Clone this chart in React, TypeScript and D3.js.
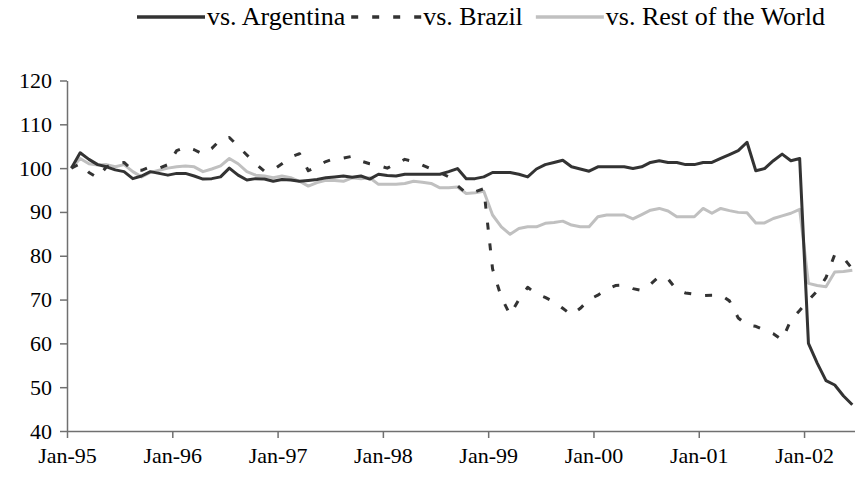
import { useEffect, useRef } from 'react';
import * as d3 from 'd3';

// monthly index, Jan-95 .. Jun-02 (90 months)
const yearLabels = ['Jan-95', 'Jan-96', 'Jan-97', 'Jan-98', 'Jan-99', 'Jan-00', 'Jan-01', 'Jan-02'];
const yTicks = [40, 50, 60, 70, 80, 90, 100, 110, 120];

const argentina = [
  100, 103.5, 102, 100.8, 100.3, 99.6, 99.2, 97.6, 98.2, 99.2, 98.8, 98.4,
  98.8, 98.8, 98.2, 97.5, 97.6, 98, 100, 98.4, 97.3, 97.6, 97.5, 97,
  97.4, 97.3, 97, 97.2, 97.4, 97.8, 98, 98.2, 97.9, 98.2, 97.5, 98.6,
  98.3, 98.2, 98.6, 98.6, 98.6, 98.6, 98.6, 99.2, 99.9, 97.6, 97.6, 98,
  99, 99, 99, 98.6, 98, 99.8, 100.8, 101.3, 101.8, 100.3, 99.8, 99.3,
  100.3, 100.3, 100.3, 100.3, 99.9, 100.3, 101.3, 101.7, 101.3, 101.3, 100.8, 100.8,
  101.3, 101.3, 102.2, 103.1, 104, 105.9, 99.4, 99.9, 101.7, 103.2, 101.7, 102.2,
  60, 55.5, 51.5, 50.5, 48, 46,
];

const brazil = [
  100, 101, 99, 97.8, 100.3, 101, 101.3, 99.5, 99.5, 100.3, 100, 100.8,
  104, 104.8, 104.2, 103.2, 104.5, 106.5, 107, 105, 103, 101, 99.3, 99.6,
  101, 102.5, 103.3, 99.4, 100.4, 101.5, 102.2, 102.3, 102.7, 101.6, 101, 100.6,
  100, 101, 102, 101.5, 100.7, 99.8, 99, 98, 96, 94.3, 94.6, 95.3,
  77, 70.5, 66.5, 70, 72.8, 71.3, 70.5, 69.5, 68, 66.5, 68, 70,
  71, 72.3, 73.2, 73.3, 72.5, 72.1, 73.5, 75.3, 74.7, 72.2, 71.5, 71.2,
  70.9, 71, 71, 69.7, 65.8, 64.2, 63.9, 63, 62.2, 60.8, 65.3, 67.5,
  69.8, 72, 75, 80.3, 79.5, 77,
];

const restOfWorld = [
  100, 102.2, 101, 100.7, 100.8, 100.3, 100.8, 99.2, 98, 99, 99.5, 100,
  100.3, 100.5, 100.3, 99.2, 99.8, 100.5, 102.2, 101, 99.2, 98.4, 98.2, 97.8,
  98.2, 97.8, 97, 95.9, 96.7, 97.2, 97.2, 97, 97.8, 97.6, 97.8, 96.3,
  96.3, 96.3, 96.5, 97, 96.8, 96.5, 95.5, 95.5, 95.7, 94.2, 94.4, 94.7,
  89.3, 86.6, 84.9, 86.2, 86.6, 86.6, 87.4, 87.6, 87.9, 87, 86.6, 86.6,
  88.9, 89.3, 89.3, 89.3, 88.4, 89.4, 90.4, 90.8, 90.2, 88.9, 88.9, 88.9,
  90.8, 89.7, 90.8, 90.3, 89.9, 89.8, 87.5, 87.5, 88.5, 89.1, 89.7, 90.6,
  73.7, 73.2, 72.9, 76.3, 76.4, 76.7,
];

const series = [
  { name: 'vs. Argentina', values: argentina, color: '#333333', dash: null },
  { name: 'vs. Brazil', values: brazil, color: '#333333', dash: '7,14' },
  { name: 'vs. Rest of the World', values: restOfWorld, color: '#c0c0c0', dash: null },
];

const FONT = '"Liberation Serif", "Times New Roman", serif';

export default function App() {
  const svgRef = useRef<SVGSVGElement>(null);

  useEffect(() => {
    const W = 855, H = 482;
    const svg = d3.select(svgRef.current).attr('width', W).attr('height', H);
    svg.selectAll('*').remove();

    const x = d3.scaleLinear().domain([0, 90]).range([67, 856.7]);
    const y = d3.scaleLinear().domain([40, 120]).range([431, 80.5]);
    const axisColor = '#707070';

    // y axis
    svg.append('g').attr('transform', 'translate(67,0)')
      .call(d3.axisLeft(y).tickValues(yTicks).tickSize(7).tickPadding(8).tickSizeOuter(0))
      .call(g => {
        g.select('.domain').attr('stroke', axisColor).attr('stroke-width', 1.5);
        g.selectAll('line').attr('stroke', axisColor).attr('stroke-width', 1.5);
        g.selectAll('text').attr('fill', '#000').attr('font-size', 22).attr('font-family', FONT);
      });

    // x axis
    svg.append('g').attr('transform', 'translate(0,431)')
      .call(d3.axisBottom(x).tickValues(yearLabels.map((_, i) => i * 12))
        .tickFormat((d: any) => yearLabels[d / 12]).tickSize(7).tickPadding(9).tickSizeOuter(0))
      .call(g => {
        g.select('.domain').attr('stroke', axisColor).attr('stroke-width', 1.5);
        g.selectAll('line').attr('stroke', axisColor).attr('stroke-width', 1.5);
        g.selectAll('text').attr('fill', '#000').attr('font-size', 22).attr('font-family', FONT);
      });

    const line = d3.line<number>().x((_, i) => x(i + 0.5)).y(d => y(d));

    // draw RoW first, then Brazil, then Argentina on top
    [series[2], series[1], series[0]].forEach(s => {
      svg.append('path').datum(s.values)
        .attr('fill', 'none').attr('stroke', s.color).attr('stroke-width', 3)
        .attr('stroke-linejoin', 'round')
        .attr('stroke-dasharray', s.dash)
        .attr('d', line);
    });

    // legend: [sample, text] pairs laid out left to right
    const lg = svg.append('g');
    const gaps = [0, 6, 13];
    let cx = 137;
    series.forEach((s, i) => {
      cx += gaps[i];
      const len = s.dash ? 70 : 68;
      lg.append('line').attr('x1', cx).attr('x2', cx + len).attr('y1', 17).attr('y2', 17)
        .attr('stroke', s.color).attr('stroke-width', 3.5).attr('stroke-dasharray', s.dash);
      cx += len + 2;
      const t = lg.append('text').attr('x', cx).attr('y', 17).attr('dy', '0.32em')
        .attr('font-size', 26).attr('font-family', FONT).attr('fill', '#000').text(s.name);
      cx += (t.node() as SVGTextElement).getComputedTextLength();
    });
  }, []);

  return (
    <div style={{ position: 'fixed', left: 0, top: 0, width: 855, height: 482, background: '#fff' }}>
      <svg ref={svgRef} style={{ display: 'block' }} />
    </div>
  );
}
